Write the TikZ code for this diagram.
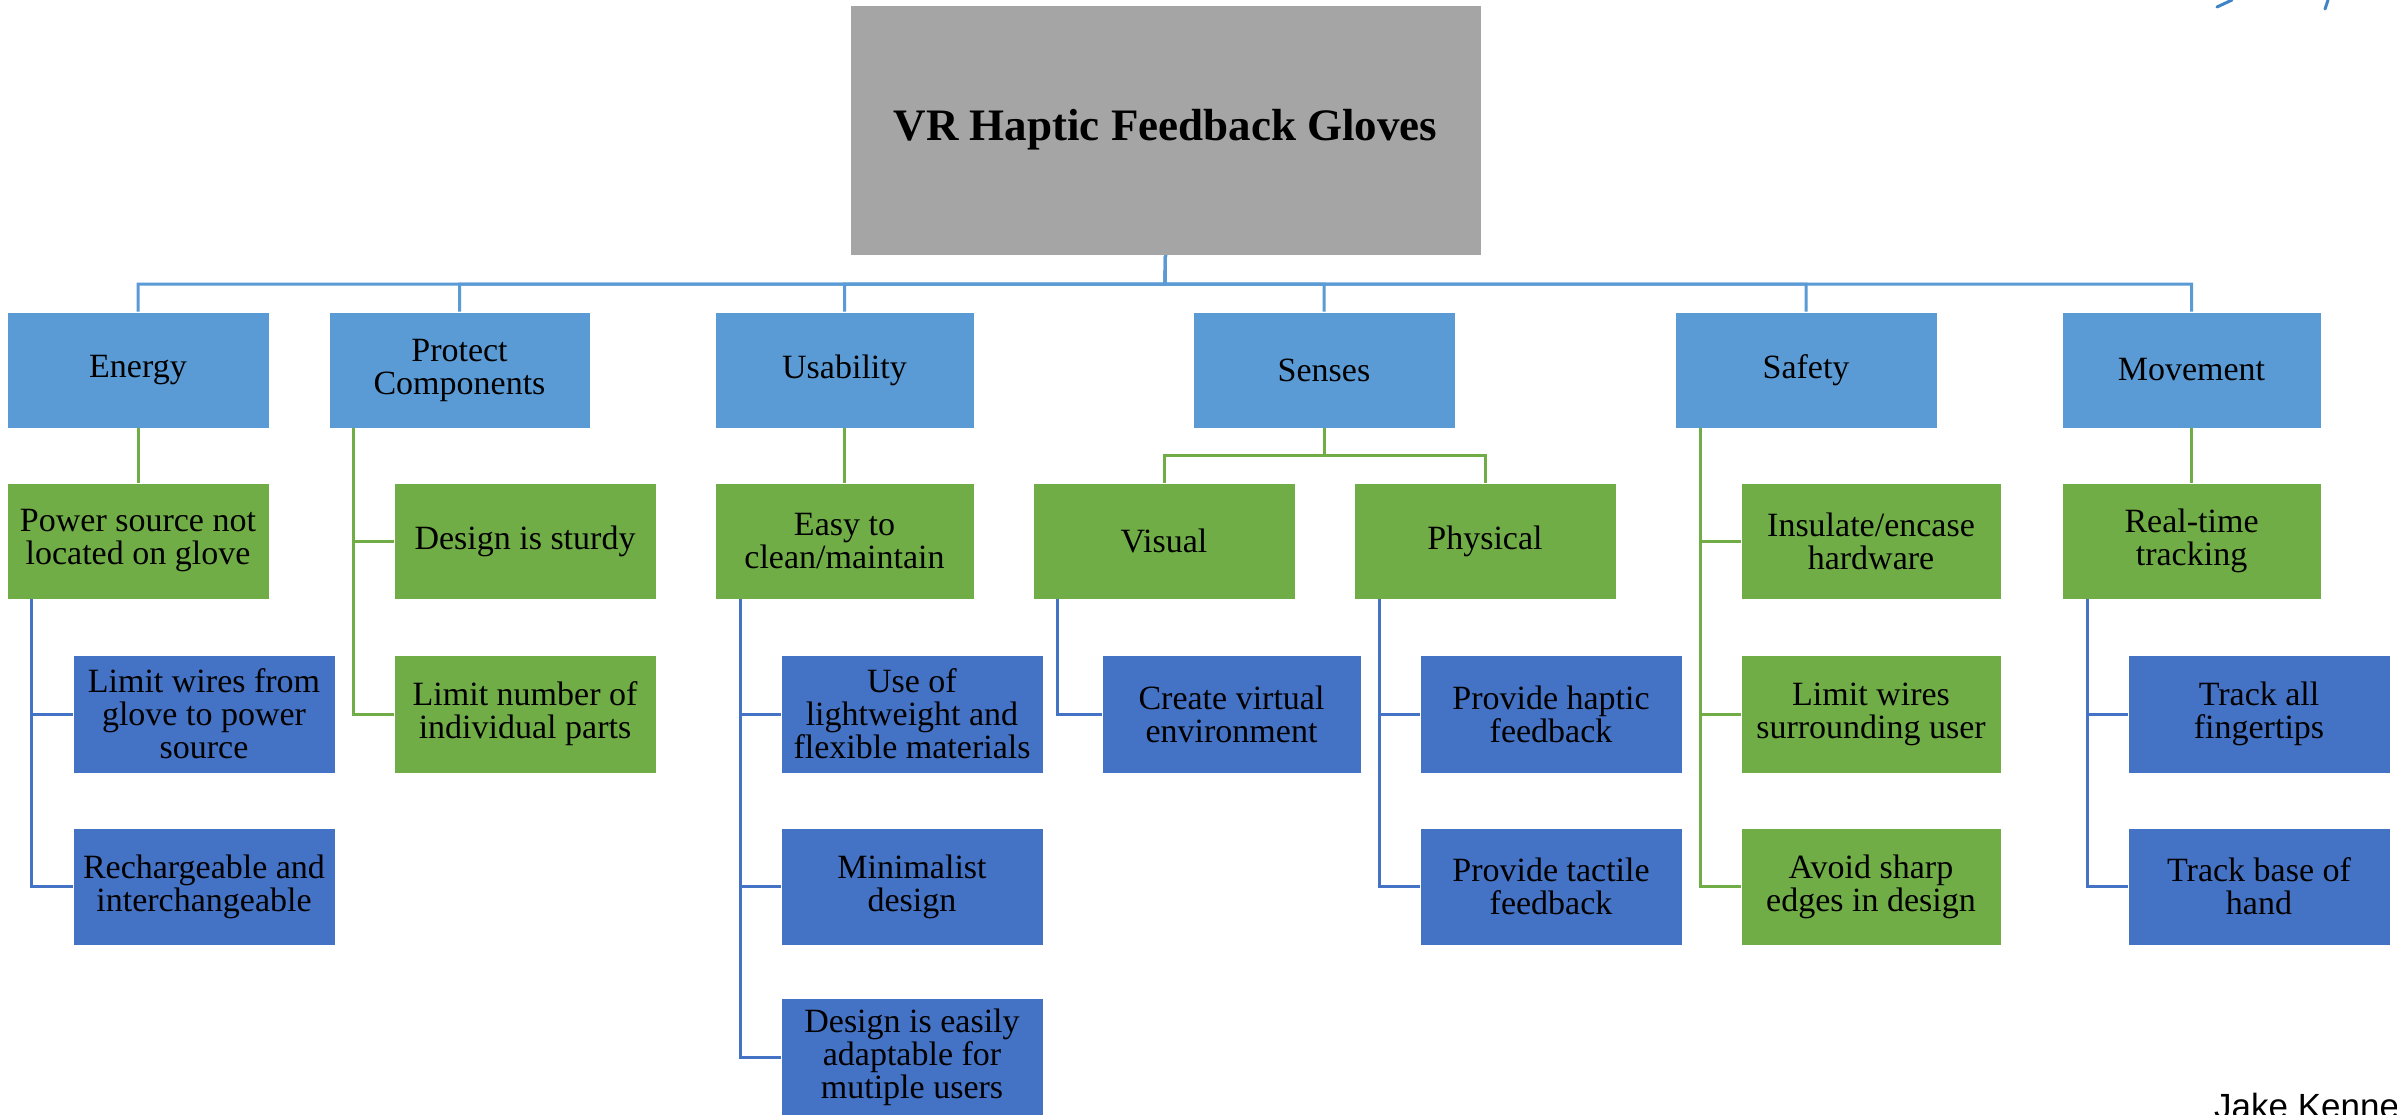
\documentclass[tikz,border=0pt]{standalone}
\usepackage{fontspec}
\setmainfont{Liberation Serif}
\newfontfamily\jakefont{Liberation Sans}
\definecolor{lb}{HTML}{5B9BD5}
\definecolor{gr}{HTML}{70AD47}
\definecolor{db}{HTML}{4472C4}
\definecolor{gy}{HTML}{A5A5A5}
\definecolor{pen}{HTML}{3D85C6}
\newcommand\mybox[7]{\node[#1, minimum width={#4-#2}, minimum height={#5-#3}] (#6) at ({(#2+#4)/2},{(#3+#5)/2}) {#7};}
\begin{document}
\begin{tikzpicture}[x=1pt,y=-1pt,
  box/.style={rectangle, inner sep=0pt, align=center, text=black, font=\fontsize{34}{33}\selectfont, draw=white, line width=0.8pt},
  rootbox/.style={box, fill=gy, font=\fontsize{45}{50}\selectfont\bfseries},
  lvone/.style={box, fill=lb},
  gbox/.style={box, fill=gr},
  dbox/.style={box, fill=db},
  busline/.style={draw=lb, line width=3pt},
  gline/.style={draw=gr, line width=3pt},
  dline/.style={draw=db, line width=3pt}]
\useasboundingbox (0,0) rectangle (2397,1114);
\fill[white] (0,0) rectangle (2397,1114);
% root
\mybox{rootbox}{850}{5}{1481}{255}{root}{VR Haptic Feedback Gloves}
% level 1
\mybox{lvone}{7}{312}{269}{428}{energy}{Energy}
\mybox{lvone}{329}{312}{590}{428}{protect}{Protect\\Components}
\mybox{lvone}{715}{312}{974}{428}{usab}{Usability}
\mybox{lvone}{1193}{312}{1455}{428}{senses}{Senses}
\mybox{lvone}{1675}{312}{1937}{428}{safety}{Safety}
\mybox{lvone}{2062}{312}{2321}{428}{move}{Movement}
% level 2 (green)
\mybox{gbox}{7}{483}{269}{599}{power}{Power source not\\located on glove}
\mybox{gbox}{394}{483}{656}{599}{sturdy}{Design is sturdy}
\mybox{gbox}{715}{483}{974}{599}{easy}{Easy to\\clean/maintain}
\mybox{gbox}{1033}{483}{1295}{599}{visual}{Visual}
\mybox{gbox}{1354}{483}{1616}{599}{physical}{Physical}
\mybox{gbox}{1741}{483}{2001}{599}{insulate}{Insulate/encase\\hardware}
\mybox{gbox}{2062}{483}{2321}{599}{realtime}{Real-time\\tracking}
% row 1
\mybox{dbox}{73}{655}{335}{773}{limwires}{Limit wires from\\glove to power\\source}
\mybox{gbox}{394}{655}{656}{773}{limparts}{Limit number of\\individual parts}
\mybox{dbox}{781}{655}{1043}{773}{uselight}{Use of\\lightweight and\\flexible materials}
\mybox{dbox}{1102}{655}{1361}{773}{createvr}{Create virtual\\environment}
\mybox{dbox}{1420}{655}{1682}{773}{haptic}{Provide haptic\\feedback}
\mybox{gbox}{1741}{655}{2001}{773}{limsurr}{Limit wires\\surrounding user}
\mybox{dbox}{2128}{655}{2390}{773}{trackall}{Track all\\fingertips}
% row 2
\mybox{dbox}{73}{828}{335}{945}{recharge}{Rechargeable and\\interchangeable}
\mybox{dbox}{781}{828}{1043}{945}{minimal}{Minimalist\\design}
\mybox{dbox}{1420}{828}{1682}{945}{tactile}{Provide tactile\\feedback}
\mybox{gbox}{1741}{828}{2001}{945}{avoid}{Avoid sharp\\edges in design}
\mybox{dbox}{2128}{828}{2390}{945}{trackbase}{Track base of\\hand}
% row 3
\mybox{dbox}{781}{998}{1043}{1116}{adapt}{Design is easily\\adaptable for\\mutiple users}
% bus
\coordinate (bus) at (1165,284);
\foreach \n in {energy,protect,usab,senses,safety,move}
  \draw[busline] (root.south) -- (bus) -| (\n.north);
% single green links
\draw[gline] (energy.south) -- (power.north);
\draw[gline] (usab.south) -- (easy.north);
\draw[gline] (move.south) -- (realtime.north);
% senses split
\coordinate (sv) at (1324,455);
\draw[gline] (senses.south) -- (sv) -| (visual.north);
\draw[gline] (sv) -| (physical.north);
% protect
\coordinate (pv) at (353,428);
\draw[gline] (pv) |- (sturdy.west);
\draw[gline] (pv) |- (limparts.west);
% safety
\coordinate (sfv) at (1700,428);
\draw[gline] (sfv) |- (insulate.west);
\draw[gline] (sfv) |- (limsurr.west);
\draw[gline] (sfv) |- (avoid.west);
% energy kids
\coordinate (ev) at (31,599);
\draw[dline] (ev) |- (limwires.west);
\draw[dline] (ev) |- (recharge.west);
% usability kids
\coordinate (uv) at (740,599);
\draw[dline] (uv) |- (uselight.west);
\draw[dline] (uv) |- (minimal.west);
\draw[dline] (uv) |- (adapt.west);
% visual kid
\coordinate (vv) at (1057,599);
\draw[dline] (vv) |- (createvr.west);
% physical kids
\coordinate (phv) at (1379,599);
\draw[dline] (phv) |- (haptic.west);
\draw[dline] (phv) |- (tactile.west);
% movement kids
\coordinate (mv) at (2087,599);
\draw[dline] (mv) |- (trackall.west);
\draw[dline] (mv) |- (trackbase.west);
% stray pen strokes at top right
\draw[pen, line width=3pt, line cap=round] (2217,7) .. controls (2225,4) .. (2232,0);
\draw[pen, line width=3pt, line cap=round] (2325,9) -- (2328,0);
% signature
\node[font=\jakefont\fontsize{35}{40}\selectfont, anchor=base west, inner sep=0pt] (jake) at (2214,1118) {Jake Kenne};
\end{tikzpicture}
\end{document}
